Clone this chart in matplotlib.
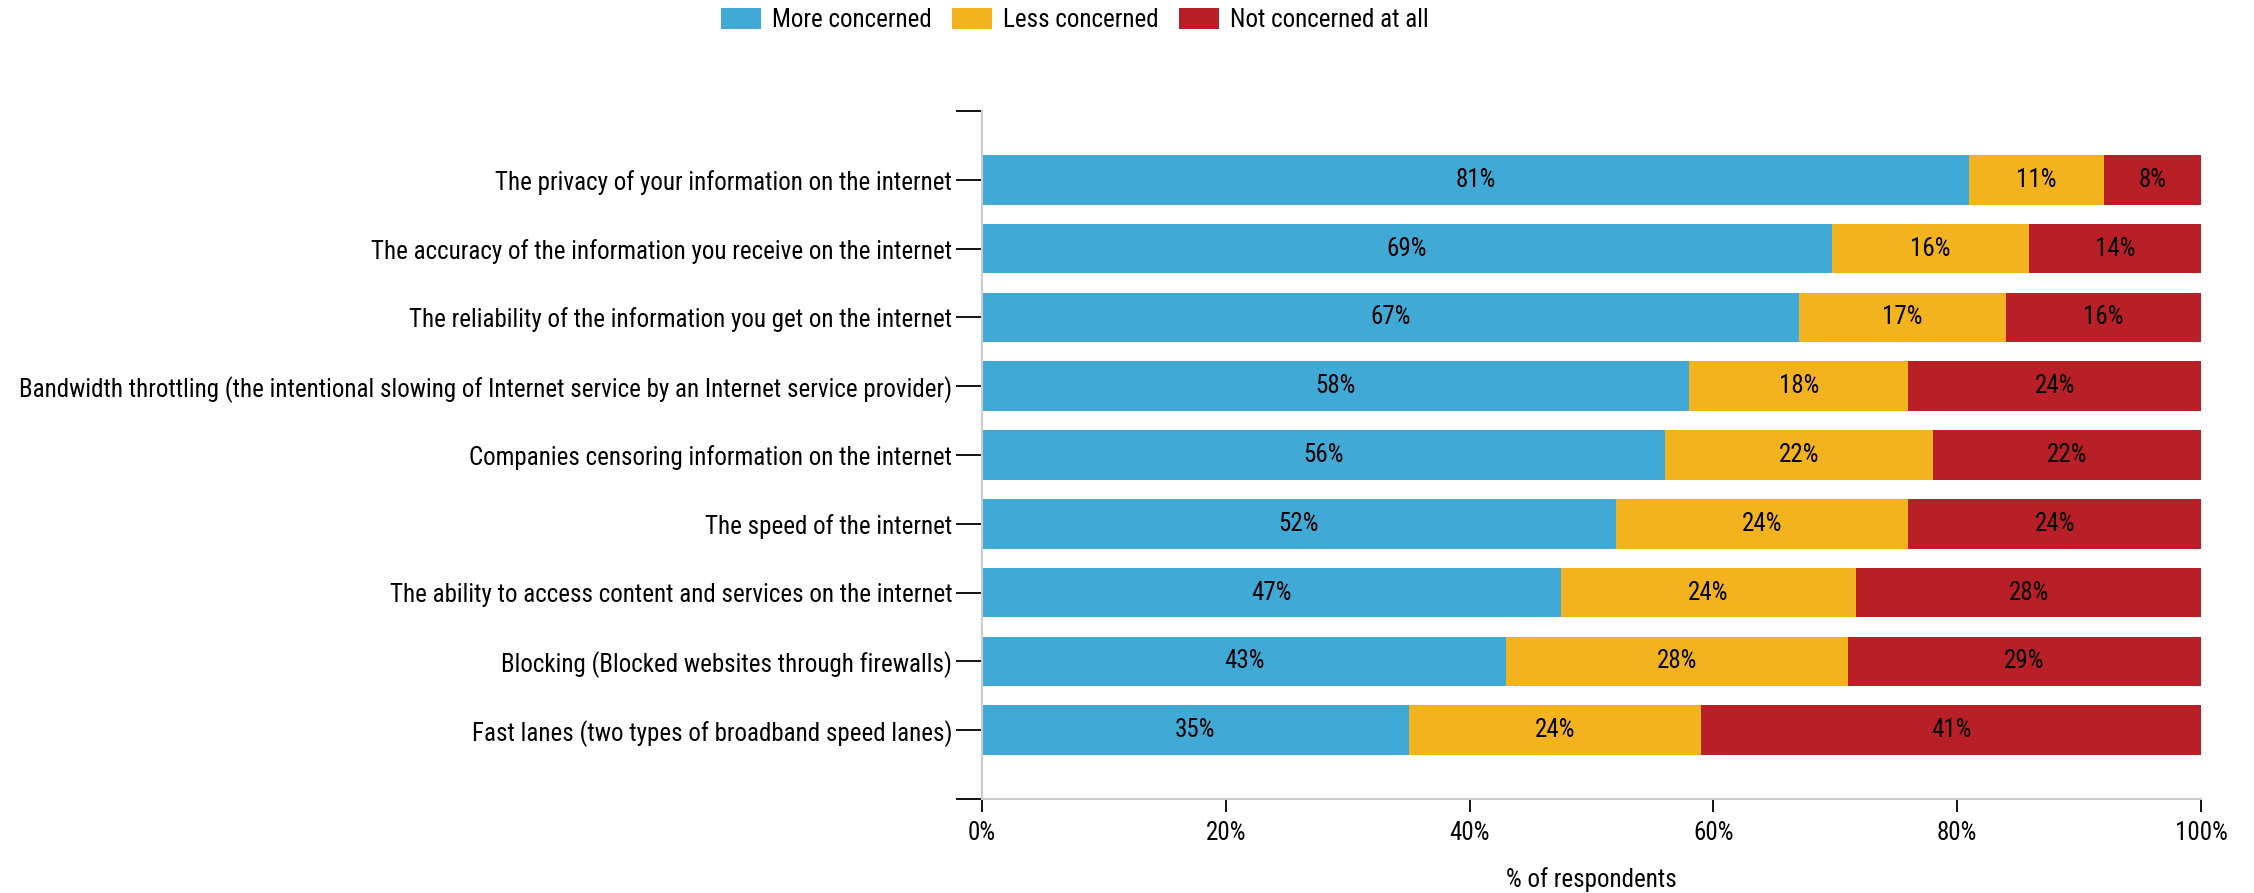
import numpy as np
import matplotlib
matplotlib.use("Agg")
import matplotlib.pyplot as plt
from matplotlib.patches import Patch

plt.rcParams['font.family'] = ['Roboto Condensed', 'DejaVu Sans']

# data (percent of respondents)
categories = [
    "The privacy of your information on the internet",
    "The accuracy of the information you receive on the internet",
    "The reliability of the information you get on the internet",
    "Bandwidth throttling (the intentional slowing of Internet service by an Internet service provider)",
    "Companies censoring information on the internet",
    "The speed of the internet",
    "The ability to access content and services on the internet",
    "Blocking (Blocked websites through firewalls)",
    "Fast lanes (two types of broadband speed lanes)",
]
more_concerned = [81, 69, 67, 58, 56, 52, 47, 43, 35]
less_concerned = [11, 16, 17, 18, 22, 24, 24, 28, 24]
not_concerned = [8, 14, 16, 24, 22, 24, 28, 29, 41]

series_names = ["More concerned", "Less concerned", "Not concerned at all"]
colors = ["#41a9d5", "#f2b31f", "#b81f27"]

data = np.array([more_concerned, less_concerned, not_concerned], dtype=float)
totals = data.sum(axis=0)
shares = data / totals * 100  # stacked to 100%

fs = 18

fig = plt.figure(figsize=(22.54, 8.93), dpi=100)
ax = fig.add_axes([0.4357, 0.1053, 0.5408, 0.7704])

y = np.arange(len(categories))
left = np.zeros(len(categories))
for i in range(3):
    ax.barh(y, shares[i], left=left, height=0.72, color=colors[i], edgecolor="none")
    for j in range(len(categories)):
        ax.text(left[j] + shares[i][j] / 2, y[j], f"{int(data[i][j])}%",
                ha="center", va="center", fontsize=fs, color="black")
    left += shares[i]

ax.set_xlim(0, 100)
ax.set_ylim(len(categories), -1)

ax.set_yticks(y)
ax.set_yticklabels(categories, fontsize=fs)
ax.set_yticks([-1, len(categories)], minor=True)
ax.tick_params(axis="y", which="both", length=18.5, width=1.3, color="black", pad=3)

ax.set_xticks(np.arange(0, 101, 20))
ax.set_xticklabels([f"{v}%" for v in range(0, 101, 20)], fontsize=fs)
ax.tick_params(axis="x", length=9, width=1.3, color="black", pad=7)

ax.set_xlabel("% of respondents", fontsize=fs, labelpad=16)

for s in ["top", "right"]:
    ax.spines[s].set_visible(False)
for s in ["left", "bottom"]:
    ax.spines[s].set_color("#cccccc")
    ax.spines[s].set_linewidth(1.5)

handles = [Patch(facecolor=c, edgecolor="none") for c in colors]
fig.legend(handles, series_names, loc="center", bbox_to_anchor=(0.477, 0.978),
           ncol=3, frameon=False, fontsize=fs, handlelength=1.6, handleheight=0.93,
           handletextpad=0.43, columnspacing=0.82)

fig.savefig("out.png", dpi=100)
